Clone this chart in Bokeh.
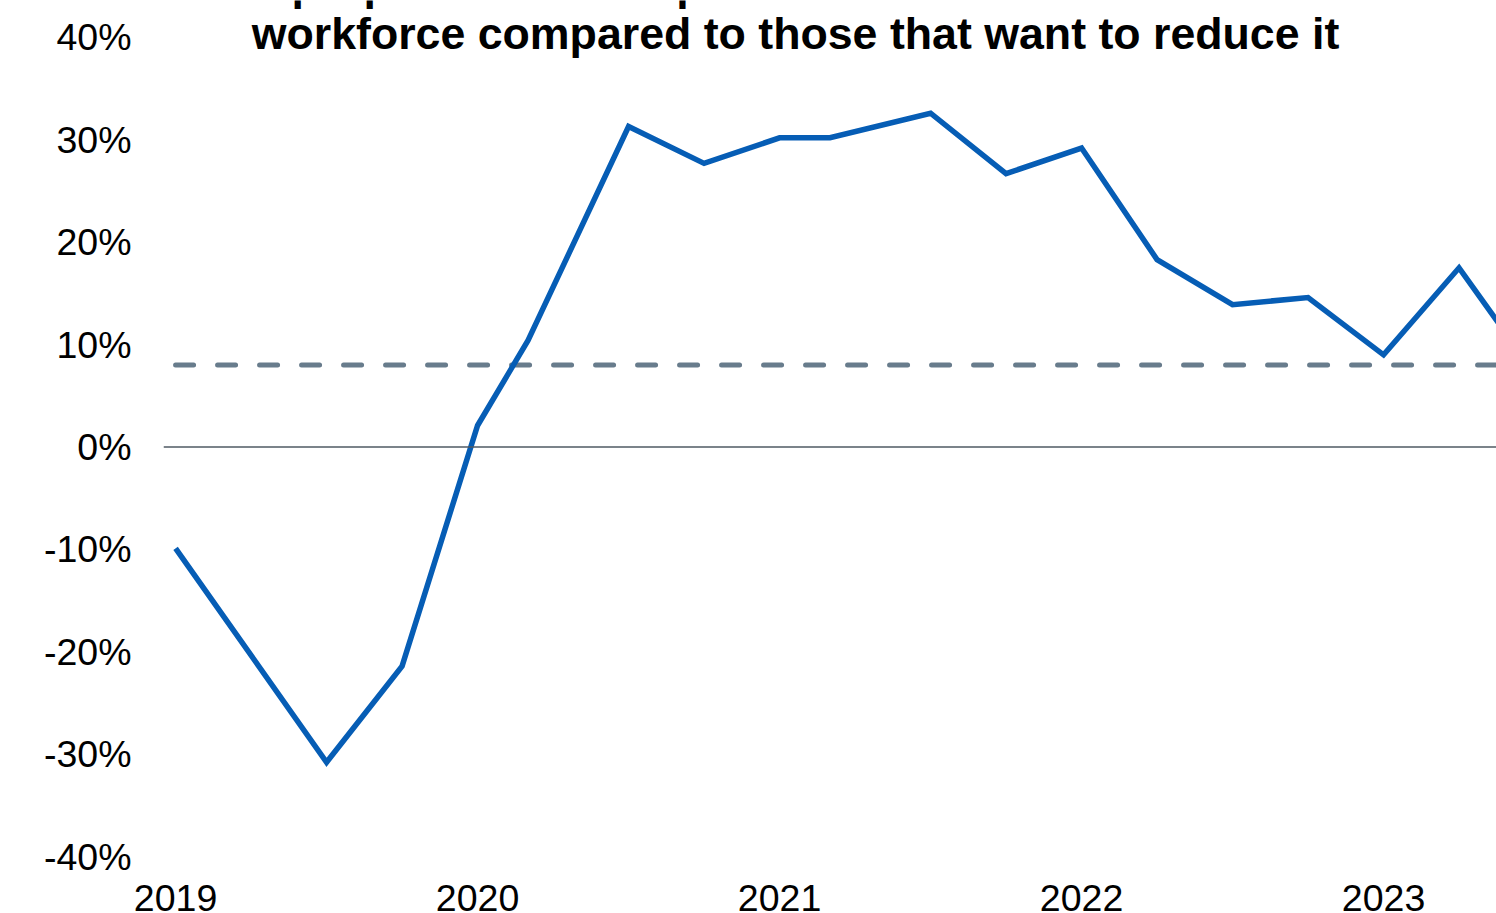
from bokeh.plotting import figure
from bokeh.models import Label, Span, FixedTicker, ColumnDataSource
from bokeh.embed import file_html
from bokeh.resources import INLINE

# ---- data ----
dates = [2019.0, 2019.5, 2019.75, 2020.0, 2020.167, 2020.5, 2020.75, 2021.0, 2021.167,
         2021.5, 2021.75, 2022.0, 2022.25, 2022.5, 2022.75, 2023.0, 2023.25, 2023.5]
net_balance = [-9.9, -30.8, -21.4, 2.1, 10.4, 31.3, 27.7, 30.2, 30.2,
               32.6, 26.7, 29.2, 18.3, 13.9, 14.6, 9.0, 17.5, 7.2]
average_value = 8.0
x_ticks = [2019, 2020, 2021, 2022, 2023]
x_tick_labels = ["2019", "2020", "2021", "2022", "2023"]
y_ticks = [-40, -30, -20, -10, 0, 10, 20, 30, 40]
y_tick_labels = ["-40%", "-30%", "-20%", "-10%", "0%", "10%", "20%", "30%", "40%"]
title_lines = ["Net proportion of companies that want to increase their",
               "workforce compared to those that want to reduce it"]

FONT = "Liberation Sans"

p = figure(width=1496, height=913, output_backend="svg", toolbar_location=None,
           x_range=(2018.96, 2023.374), y_range=(-40, 43.61),
           min_border_left=163, min_border_right=0, min_border_top=0, min_border_bottom=56)
p.outline_line_color = None
p.xgrid.visible = False
p.ygrid.visible = False
p.background_fill_color = "white"
p.border_fill_color = "white"

for ax in (p.xaxis[0], p.yaxis[0]):
    ax.axis_line_color = None
    ax.major_tick_line_color = None
    ax.minor_tick_line_color = None
    ax.major_tick_out = 0
    ax.major_tick_in = 0
    ax.minor_tick_out = 0
    ax.major_label_text_font = FONT
    ax.major_label_text_font_size = "37.5px"
    ax.major_label_text_color = "black"

p.xaxis.ticker = FixedTicker(ticks=x_ticks)
p.xaxis.major_label_overrides = {t: l for t, l in zip(x_ticks, x_tick_labels)}
p.xaxis.major_label_standoff = 28
p.yaxis.ticker = FixedTicker(ticks=y_ticks)
p.yaxis.major_label_overrides = {t: l for t, l in zip(y_ticks, y_tick_labels)}
p.yaxis.major_label_standoff = 32

zero = Span(location=0, dimension="width", line_color="#4f5a63", line_width=1.5)
p.add_layout(zero)

avg_src = ColumnDataSource(dict(x=[dates[0], dates[-1]], y=[average_value, average_value]))
p.line("x", "y", source=avg_src, line_color="#687c8c", line_width=5,
       line_dash="18 24", line_cap="round")

src = ColumnDataSource(dict(x=dates, y=net_balance))
p.line("x", "y", source=src, line_color="#065db5", line_width=5.5, line_join="miter")

# title (first line partly above the canvas, as in the reference)
cx = 795 - 163
p.add_layout(Label(x=cx, y=857 + 2.4 + 13, x_units="screen", y_units="screen",
                   text=title_lines[0], text_align="center", text_baseline="alphabetic",
                   text_font=FONT, text_font_style="bold", text_font_size="44.7px",
                   text_color="black"))
p.add_layout(Label(x=cx, y=857 - 47 + 13, x_units="screen", y_units="screen",
                   text=title_lines[1], text_align="center", text_baseline="alphabetic",
                   text_font=FONT, text_font_style="bold", text_font_size="44.7px",
                   text_color="black"))

open("out.html", "w").write(file_html(p, INLINE))
